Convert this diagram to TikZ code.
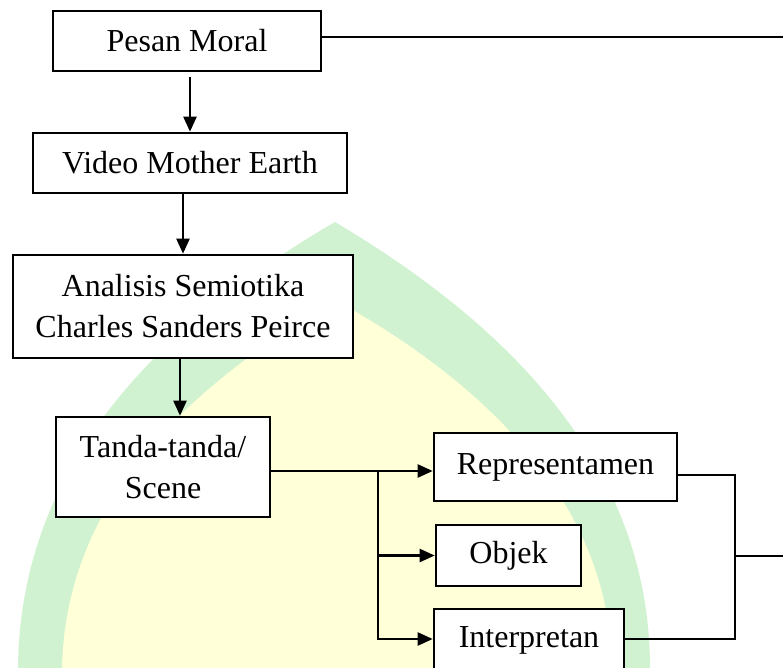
\documentclass[tikz,border=0pt]{standalone}
\usepackage{fontspec}
\setmainfont{Liberation Serif}
\usetikzlibrary{arrows.meta,positioning}
\definecolor{wmgreen}{HTML}{D0F2D0}
\definecolor{wmyellow}{HTML}{FFFFD8}

\begin{document}
\begin{tikzpicture}[x=1pt,y=-1pt,align=center,font=\fontsize{32}{41}\selectfont]
\tikzstyle{box}=[draw=black,fill=white,line width=2.6pt,inner sep=0pt]
\tikzstyle{arrow}=[-{Triangle[length=15pt,width=13pt]},line width=2.3pt]
\tikzstyle{link}=[line width=1.7pt]

\clip (0,0) rectangle (783,668);
\fill[wmgreen] (18,668) .. controls (20,470) and (150,330) .. (335,222) .. controls (500,320) and (650,460) .. (650,668) -- cycle;
\fill[wmyellow] (62,668) .. controls (66,500) and (185,390) .. (335,300) .. controls (480,380) and (610,500) .. (612,668) -- cycle;

\node[box,minimum width=268pt,minimum height=60pt] (pesan) at (187,41) {Pesan Moral};
\node[box,minimum width=314pt,minimum height=60pt] (video) at (190,163) {Video Mother Earth};
\node[box,minimum width=340pt,minimum height=103pt] (analisis) at (183,306.5) {Analisis Semiotika\\Charles Sanders Peirce};
\node[box,minimum width=214pt,minimum height=100pt] (tanda) at (163,467) {Tanda-tanda/\\Scene};
\node[box,minimum width=243pt,minimum height=68pt] (repr) at (555.5,467) {Representamen};
\node[box,minimum width=145pt,minimum height=61pt] (objek) at (508.5,555.5) {Objek};
\node[box,minimum width=190pt,minimum height=62pt] (interp) at (529,640) {Interpretan};

\coordinate (pesR) at (783,37);
\coordinate (split) at (378,471);
\coordinate (brkB) at (735,639);
\coordinate (brkM) at (735,556);
\coordinate (brkR) at (783,556);

\draw[link,line width=2pt] (pesR -| pesan.east) -- (pesR);
\draw[arrow] ([yshift=-5pt]video.north |- pesan.south) -- (video.north);
\draw[arrow] (analisis.north |- video.south) -- (analisis.north);
\draw[arrow] ([xshift=-3pt]analisis.south) -- ([xshift=-3pt]analisis.south |- tanda.north);
\draw[arrow] ([yshift=-4pt]tanda.east) -- ([yshift=-4pt]repr.west);
\draw[link] (split) -- (split |- objek.west);
\draw[arrow] (split |- objek.west) -- (objek.west);
\draw[arrow] (split |- objek.west) |- ([yshift=1pt]interp.west);
\draw[link] ([yshift=-8pt]repr.east) -| (brkB) -- (brkB -| interp.east);
\draw[link] (brkM) -- (brkR);
\end{tikzpicture}
\end{document}
